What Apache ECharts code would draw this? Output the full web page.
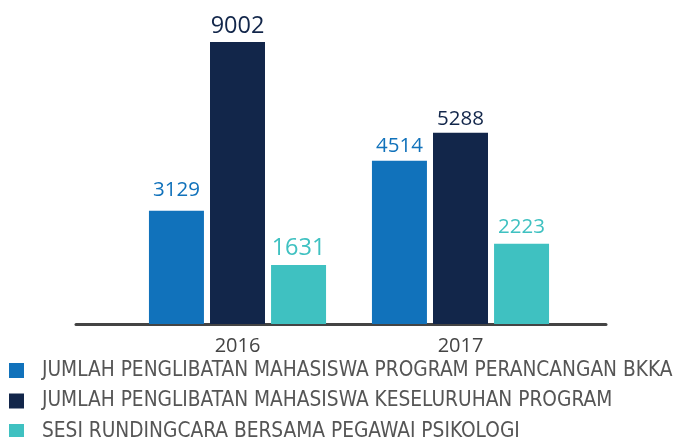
<!DOCTYPE html>
<html>
<head>
<meta charset="utf-8">
<script src="https://cdn.jsdelivr.net/npm/echarts@6/dist/echarts.min.js"></script>
<style>
  html, body { margin: 0; padding: 0; background: #ffffff; }
  #chart { width: 676px; height: 437px; }
</style>
</head>
<body>
<div id="chart"></div>
<script>
// Years shown along the x axis
const years = ['2016', '2017'];

// Series names (legend) and values per year
const seriesNames = [
  'JUMLAH PENGLIBATAN MAHASISWA PROGRAM PERANCANGAN BKKA',
  'JUMLAH PENGLIBATAN MAHASISWA KESELURUHAN PROGRAM',
  'SESI RUNDINGCARA BERSAMA PEGAWAI PSIKOLOGI'
];
const programBkka = [3129, 4514];
const keseluruhan = [9002, 5288];
const rundingcara = [1631, 2223];

const colors = ['#1172bb', '#12264a', '#3fc1c1'];
const legendFont = '"Liberation Sans Narrow", "DejaVu Sans Condensed", Roboto, "Open Sans", sans-serif';
const numberFont = '"Open Sans", sans-serif';

// Value label styling per series, one entry per year: [fontSize, distance]
const labelLook = [
  [[20.5, 10], [20.5, 4]],
  [[23.5, 4], [20.5, 3]],
  [[23.5, 5], [20.5, 6]]
];

const chart = echarts.init(document.getElementById('chart'), null, { renderer: 'canvas' });

function barSeries(idx, values) {
  return {
    name: seriesNames[idx],
    type: 'bar',
    xAxisIndex: 0,
    yAxisIndex: 0,
    data: values.map((v, i) => ({
      value: v,
      label: { fontSize: labelLook[idx][i][0], distance: labelLook[idx][i][1] }
    })),
    barWidth: 55,
    barGap: '11%',
    clip: true,
    itemStyle: { color: colors[idx] },
    label: {
      show: true,
      position: 'top',
      color: colors[idx],
      fontFamily: numberFont
    }
  };
}

chart.setOption({
  animation: false,
  color: colors,
  grid: [
    { left: 126, right: 104, top: 42, bottom: 113 },
    { left: 76, right: 70, top: 42, bottom: 113 }
  ],
  legend: {
    orient: 'vertical',
    left: 9,
    top: 360,
    height: 90,
    padding: 0,
    itemWidth: 15,
    itemHeight: 15,
    itemGap: 9.5,
    icon: 'rect',
    data: seriesNames,
    textStyle: {
      color: '#555555',
      fontSize: 20.7,
      fontFamily: legendFont,
      padding: [0, 0, 0, 13]
    }
  },
  xAxis: [
    {
      type: 'category',
      gridIndex: 0,
      data: years,
      axisLine: { show: false },
      axisTick: { show: false },
      axisLabel: {
        color: '#444444',
        fontSize: 20,
        margin: 12,
        fontFamily: numberFont
      }
    },
    {
      type: 'value',
      gridIndex: 1,
      min: 0,
      max: 1,
      axisLine: { show: true, onZero: false, lineStyle: { color: '#444444', width: 3 } },
      axisTick: { show: false },
      axisLabel: { show: false },
      splitLine: { show: false }
    }
  ],
  yAxis: [
    {
      type: 'value',
      gridIndex: 0,
      min: 0,
      max: 7800,
      show: false
    },
    {
      type: 'value',
      gridIndex: 1,
      show: false
    }
  ],
  series: [
    barSeries(0, programBkka),
    barSeries(1, keseluruhan),
    barSeries(2, rundingcara)
  ]
});
</script>
</body>
</html>
